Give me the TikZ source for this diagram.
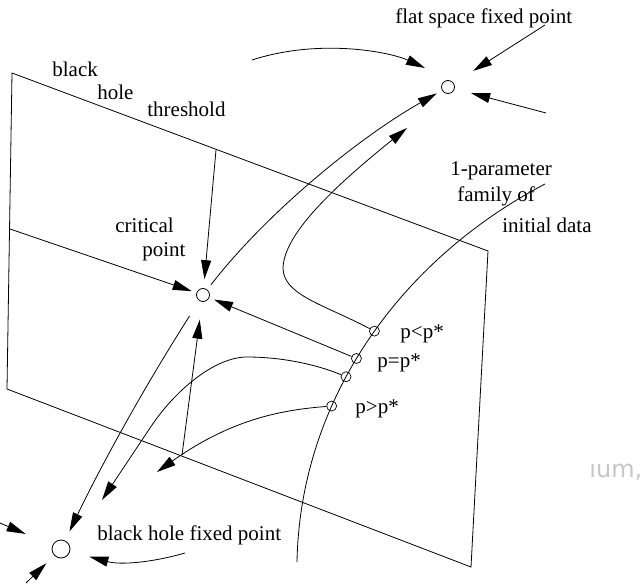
\documentclass[tikz,border=0pt]{standalone}
\usepackage{fontspec}
\setmainfont{Liberation Serif}
\newfontfamily\graysans{DejaVu Sans}
\usetikzlibrary{arrows.meta}
\begin{document}
\begin{tikzpicture}[x=1pt,y=-1pt, line width=0.8pt,
  arr/.style={-{Triangle[length=19pt,width=10pt]}},
  lbl/.style={font=\fontsize{21}{25}\selectfont, inner sep=0pt, anchor=base west},
  fp/.style={circle, draw, inner sep=0pt, minimum size=13pt, line width=0.8pt},
  dp/.style={circle, draw, inner sep=0pt, minimum size=10pt, line width=0.7pt}]
\useasboundingbox (0,0) rectangle (644,585);

% plane
\draw (12,73) -- (488,251) -- (471,567) -- (7,389) -- cycle;

% fixed points
\node[fp] (crit) at (203,295) {};
\node[fp] (flat) at (448,87) {};
\node[fp, minimum size=18pt] (bh) at (61,549) {};

% one-parameter family of initial data
\draw (545,184) .. controls (400,260) and (300,400) .. (297,562)
  node[dp,pos=0.475] (pl) {}
  node[dp,pos=0.545] (pe) {}
  node[dp,pos=0.59] (pm) {}
  node[dp,pos=0.66] (pg) {};

% labels
\node[lbl] (tflat) at (395,24) {flat space fixed point};
\node[lbl] (tbh) at (97,540) {black hole fixed point};
\node[lbl] (tblack) at (52,77) {black};
\node[lbl] (thole) at (97,100) {hole};
\node[lbl] (tthr) at (147,117) {threshold};
\node[lbl] (tcrit) at (115,233) {critical};
\node[lbl] (tpoint) at (142,256) {point};
\node[lbl] (tpar) at (450,176) {1-parameter};
\node[lbl] (tfam) at (457,202) {family of};
\node[lbl] (tinit) at (502,233) {initial data};
\node[lbl] (tpl) at (400,338) {p<p*};
\node[lbl] (tpe) at (377,367) {p=p*};
\node[lbl] (tpg) at (355,413) {p>p*};
\node[anchor=base west, inner sep=0pt, text=black!22,
      font=\graysans\fontsize{24}{28}\selectfont] (tium) at (589,477) {ıum,};

% flows into the critical point
\coordinate (thr) at (216,150);
\draw[arr, shorten >=9pt] (thr) -- (crit);
\coordinate (lft) at (10,229);
\draw[arr, shorten >=5pt] (lft) -- (crit);
\draw[arr, shorten >=5pt] (pe) -- (crit);
\coordinate (low) at (182,455);
\draw[arr, shorten >=18pt] (low) -- (crit);

% flows out of the critical point
\draw[arr, shorten <=6pt, shorten >=6pt] (crit) .. controls (265,215) and (355,140) .. (flat);
\draw[arr, shorten <=18pt, shorten >=10pt] (crit) .. controls (141,392) and (99,470) .. (bh);

% flows into flat space
\coordinate (f1) at (545,25);
\draw[arr, shorten >=23pt] (f1) -- (flat);
\coordinate (f2) at (546,113);
\draw[arr, shorten >=17pt] (f2) -- (flat);
\coordinate (f3) at (252,60);
\coordinate (f3t) at (425,68);
\draw[arr] (f3) .. controls (320,38) and (390,52) .. (f3t);

% subcritical data
\coordinate (ut) at (407,128);
\draw[arr] (pl) .. controls (325,305) and (283,295) .. (283,268)
  .. controls (284,235) and (330,190) .. (ut);

% supercritical data
\coordinate (mt) at (102,500);
\draw[arr] (pm) .. controls (310,362) and (275,357) .. (247,357)
  .. controls (215,357) and (175,390) .. (150,428) -- (mt);
\coordinate (gt) at (157,472);
\draw[arr] (pg) .. controls (280,410) and (230,420) .. (gt);

% flows into the black hole fixed point
\coordinate (b1) at (0,523);
\draw[arr, shorten >=29pt] (b1) -- (bh);
\coordinate (b2) at (26,583);
\draw[arr, shorten >=11pt] (b2) -- (bh);
\coordinate (b3) at (185,553);
\draw[arr, shorten >=20pt] (b3) .. controls (150,563) and (120,565) .. (bh);
\end{tikzpicture}
\end{document}
